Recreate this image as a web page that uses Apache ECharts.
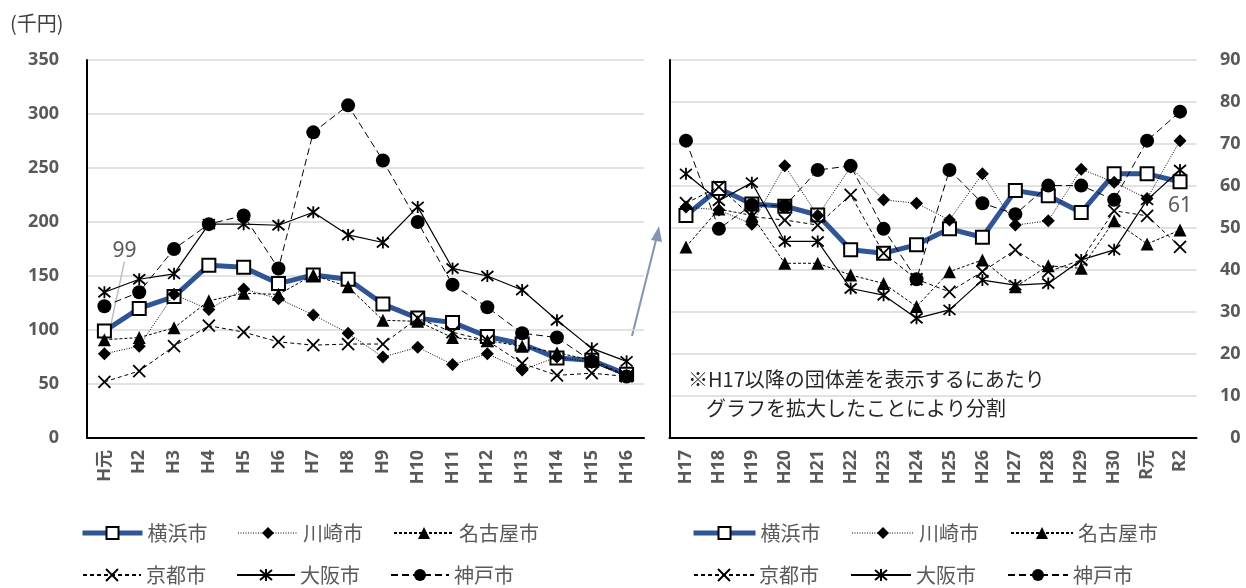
<!DOCTYPE html>
<html><head><meta charset="utf-8">
<script src="https://cdn.jsdelivr.net/npm/echarts@6/dist/echarts.min.js"></script>
<style>html,body{margin:0;padding:0;background:#fff}#c{width:1246px;height:588px}</style>
</head><body><div id="c"></div>
<script>
const catsL = ['H元','H2','H3','H4','H5','H6','H7','H8','H9','H10','H11','H12','H13','H14','H15','H16'];
const catsR = ['H17','H18','H19','H20','H21','H22','H23','H24','H25','H26','H27','H28','H29','H30','R元','R2'];
const names = ['横浜市','川崎市','名古屋市','京都市','大阪市','神戸市'];

const yokohamaL = [99,120,131,160,158,143,151,147,124,111,107,94,87,74,72,59];
const kawasakiL = [78,85,133,119,138,129,114,97,75,84,68,78,63,75,70,57];
const nagoyaL   = [91,93,102,127,134,133,151,140,109,108,93,90,85,79,72,58];
const kyotoL    = [52,62,85,104,98,89,86,87,87,111,98,90,69,58,60,57];
const osakaL    = [135,147,152,198,198,197,209,188,181,214,157,150,137,109,83,71];
const kobeL     = [122,135,175,198,206,157,283,308,257,200,142,121,97,93,71,57];

const yokohamaR = [53,59.4,55.7,55.2,53.1,44.8,44,46,49.8,47.8,58.9,57.7,53.7,62.9,62.9,61];
const kawasakiR = [55,54.3,50.9,64.8,53,64.5,56.7,55.9,51.9,62.9,50.7,51.7,64,60.9,57,70.8];
const nagoyaR   = [45.5,54.5,53,41.6,41.6,38.8,36.8,31.3,39.6,42.4,36,41,40.4,51.7,46.2,49.5];
const kyotoR    = [55.9,59.8,52.7,51.9,50.7,57.9,44,37.8,34.8,39.6,44.8,39.6,42.4,54.1,52.9,45.5];
const osakaR    = [62.9,56.5,60.8,46.8,46.8,35.6,34,28.5,30.5,37.6,36.4,36.8,42.4,44.8,56.7,63.8];
const kobeR     = [70.8,49.8,55.5,55.2,63.8,64.8,49.8,37.8,63.8,55.9,53.3,60.1,60.1,56.7,70.8,77.7];

const ticksL = {min:0, max:350, interval:50};
const ticksR = {min:0, max:90, interval:10};

const NUMFONT = '"Noto Sans", "Noto Sans CJK JP", sans-serif';
const JPFONT = '"Noto Sans CJK JP", sans-serif';
const GRAY = '#595959';

const styles = [
  {symbol:'rect', symbolSize:13, lineStyle:{color:'#2F5597', width:5, type:'solid'}, itemStyle:{color:'#fff', borderColor:'#000', borderWidth:2}},
  {symbol:'diamond', symbolSize:13, lineStyle:{color:'#000', width:1, type:[1,1.5]}, itemStyle:{color:'#000', borderColor:'#000', borderWidth:0}},
  {symbol:'triangle', symbolSize:13, lineStyle:{color:'#000', width:1, type:[3,2]}, itemStyle:{color:'#000', borderColor:'#000', borderWidth:0}},
  {symbol:'path://M0,0L10,10M10,0L0,10', symbolSize:12, lineStyle:{color:'#000', width:1, type:[4,3]}, itemStyle:{color:'rgba(0,0,0,0)', borderColor:'#000', borderWidth:1.8}},
  {symbol:'path://M0,0L10,10M10,0L0,10M5,-1L5,11', symbolSize:12, lineStyle:{color:'#000', width:1.2, type:'solid'}, itemStyle:{color:'rgba(0,0,0,0)', borderColor:'#000', borderWidth:1.8}},
  {symbol:'circle', symbolSize:14, lineStyle:{color:'#000', width:1, type:[7,4]}, itemStyle:{color:'#000', borderColor:'#000', borderWidth:0}}
];

function mk(name, i, data, gi) {
  const s = Object.assign({
    name: name, type:'line', xAxisIndex: gi, yAxisIndex: gi === 0 ? 0 : 1,
    data: data.slice(), showAllSymbol:true, animation:false, z: 2 + i
  }, JSON.parse(JSON.stringify(styles[i])));
  return s;
}

const series = [];
const setsL = [yokohamaL,kawasakiL,nagoyaL,kyotoL,osakaL,kobeL];
const setsR = [yokohamaR,kawasakiR,nagoyaR,kyotoR,osakaR,kobeR];
names.forEach((n,i)=>series.push(mk(n,i,setsL[i],0)));
names.forEach((n,i)=>series.push(mk(n,i,setsR[i],1)));

// annotation labels on Yokohama
series[0].data[0] = {value: yokohamaL[0], label:{show:true, position:'top', color:GRAY, fontSize:21, fontFamily:NUMFONT}};
series[0].labelLine = {show:true, lineStyle:{color:'#bfbfbf', width:1.5}};
series[0].labelLayout = {dx:20, dy:-57};
series[6].data[15] = {value: yokohamaR[15], label:{show:true, position:'bottom', distance:6, color:GRAY, fontSize:21, fontFamily:NUMFONT}};

function legendItem(n) {
  if (n === '横浜市') return {name:n, lineStyle:{width:5, color:'#2F5597'}};
  if (n === '川崎市') return {name:n, lineStyle:{width:1, type:[1,1.5], color:'#000'}};
  return {name:n};
}
function legend(left, top, data, w, gap) {
  return {left:left, top:top, data:data.map(legendItem), itemWidth:w, itemHeight:15, itemGap:gap, orient:'horizontal',
    textStyle:{color:GRAY, fontSize:20, fontFamily:JPFONT}, selectedMode:false};
}

const catLabel = {rotate:90, fontWeight:'bold', fontSize:18, color:GRAY, fontFamily:NUMFONT, margin:12, interval:0};
const yLabel = {fontWeight:'bold', fontSize:18, color:GRAY, fontFamily:NUMFONT};

const option = {
  animation:false,
  grid:[
    {left:87, top:60, width:557, height:378, show:false},
    {left:669.5, top:60, width:527, height:378, show:false}
  ],
  xAxis:[
    {type:'category', gridIndex:0, data:catsL, boundaryGap:true, axisTick:{show:false}, axisLine:{lineStyle:{color:'#000', width:2}}, axisLabel:catLabel},
    {type:'category', gridIndex:1, data:catsR, boundaryGap:true, axisTick:{show:false}, axisLine:{lineStyle:{color:'#000', width:2}}, axisLabel:catLabel}
  ],
  yAxis:[
    {type:'value', gridIndex:0, min:ticksL.min, max:ticksL.max, interval:ticksL.interval, axisLine:{show:true, lineStyle:{color:'#000', width:2}}, axisTick:{show:false}, axisLabel:Object.assign({margin:28}, yLabel), splitLine:{lineStyle:{color:'#d9d9d9', width:1.5}}},
    {type:'value', gridIndex:1, position:'right', min:ticksR.min, max:ticksR.max, interval:ticksR.interval, axisLine:{show:false}, axisTick:{show:false}, axisLabel:Object.assign({margin:44, align:'right'}, yLabel), splitLine:{lineStyle:{color:'#d9d9d9', width:1.5}}},
    {type:'value', gridIndex:1, position:'left', min:ticksR.min, max:ticksR.max, interval:ticksR.interval, axisLine:{show:true, lineStyle:{color:'#000', width:2}}, axisTick:{show:false}, axisLabel:{show:false}, splitLine:{show:false}}
  ],
  legend:[
    legend(75, 518, names.slice(0,3), 60, 30),
    legend(77, 560, names.slice(3,6), 58, 30),
    legend(686, 518, names.slice(0,3), 62, 31),
    legend(688, 560, names.slice(3,6), 60, 31)
  ],
  graphic:[
    {type:'text', left:10, top:13, style:{text:'(千円)', fontSize:20, fill:'#404040', fontFamily:JPFONT}},
    {type:'line', shape:{x1:632, y1:336, x2:657, y2:236}, style:{stroke:'#8497B0', lineWidth:2}},
    {type:'polygon', shape:{points:[[659,226],[651,240],[662,242]]}, style:{fill:'#8497B0'}},
    {type:'text', left:688, top:369, style:{text:'※H17以降の団体差を表示するにあたり', fontSize:20, fill:'#262626', fontFamily:JPFONT}},
    {type:'text', left:706, top:398, style:{text:'グラフを拡大したことにより分割', fontSize:20, fill:'#262626', fontFamily:JPFONT}}
  ],
  series: series
};
const chart = echarts.init(document.getElementById('c'));
chart.setOption(option);
</script></body></html>
